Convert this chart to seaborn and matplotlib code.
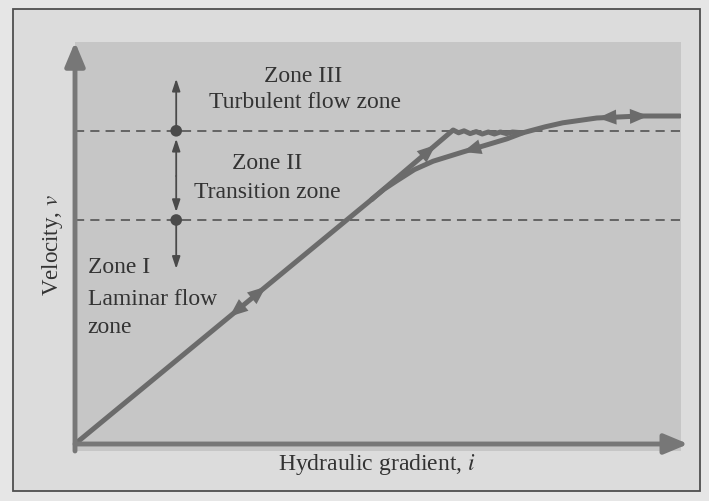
import numpy as np
import seaborn as sns
import matplotlib
matplotlib.use("Agg")
import matplotlib.pyplot as plt
from matplotlib.patches import Rectangle

# curve (x = hydraulic gradient, y = velocity, arbitrary units)
laminar_x = [0.0, 4.90]
laminar_y = [0.0, 6.12]

# rising branch: straight up to the upper critical velocity, then the wobble
rise_x = [4.90, 6.24, 6.33, 6.42, 6.52, 6.62, 6.72, 6.82, 6.92, 7.02, 7.12, 7.22, 7.39]
rise_y = [6.12, 7.85, 7.78, 7.83, 7.76, 7.81, 7.75, 7.80, 7.75, 7.80, 7.76, 7.80, 7.78]

# falling branch / turbulent curve
fall_x = [4.90, 5.10, 5.31, 5.60, 5.91, 6.40, 6.80, 7.13, 7.39, 7.76, 8.05, 8.61, 9.32, 9.98]
fall_y = [6.12, 6.37, 6.58, 6.86, 7.07, 7.30, 7.48, 7.63, 7.78, 7.93, 8.03, 8.15, 8.20, 8.20]

upper_crit = 7.83
lower_crit = 5.60
marker_x = 1.67
zone_top = 9.13
zone_bottom = 4.38

CURVE = "#6b6b6b"
DARK = "#4a4a4a"

sns.set_theme(style="white")
plt.rcParams["font.family"] = ["Liberation Serif", "DejaVu Serif"]
plt.rcParams["mathtext.fontset"] = "stix"

fig = plt.figure(figsize=(7.09, 5.02), dpi=100, facecolor="#e6e6e6")
fig.patches.append(Rectangle((13 / 709, 10 / 502), 687 / 709, 482 / 502,
                             transform=fig.transFigure, facecolor="#dcdcdc",
                             edgecolor="#4f4f4f", lw=1.3, zorder=-10))
ax = fig.add_axes([75 / 709, 50 / 502, 606 / 709, 409 / 502])
ax.set_zorder(1)
ax.set_facecolor("#c6c6c6")
ax.set_xlim(0, 10)
ax.set_ylim(-0.175, 10.05)
for s in ax.spines.values():
    s.set_visible(False)
ax.set_xticks([])
ax.set_yticks([])

# dashed critical velocity lines
ax.axhline(upper_crit, color=DARK, lw=1.1, ls=(0, (6, 4)))
ax.axhline(lower_crit, color=DARK, lw=1.1, ls=(0, (6, 4)))

# curves
for xs, ys in [(laminar_x, laminar_y), (rise_x, rise_y), (fall_x, fall_y)]:
    sns.lineplot(x=xs, y=ys, ax=ax, sort=False, color=CURVE, lw=3.6,
                 solid_capstyle="round", estimator=None)


def head(x0, x1, xs, ys):
    # arrowhead sitting on the curve, pointing from x0 to x1
    ax.annotate("", xy=(x1, np.interp(x1, xs, ys)), xytext=(x0, np.interp(x0, xs, ys)),
                arrowprops=dict(arrowstyle="-|>,head_length=1.1,head_width=0.45",
                                color=CURVE, lw=0, shrinkA=0, shrinkB=0))


head(2.85, 3.15, laminar_x, laminar_y)
head(2.85, 2.55, laminar_x, laminar_y)
head(5.75, 5.95, rise_x[:2], rise_y[:2])
head(6.6, 6.4, fall_x, fall_y)
head(8.9, 8.63, fall_x, fall_y)
head(9.2, 9.46, fall_x, fall_y)

# axes drawn as thick arrows
ax.annotate("", xy=(0, 10.05), xytext=(0, -0.175),
            arrowprops=dict(arrowstyle="-|>,head_length=1.2,head_width=0.5",
                            color="#777777", lw=3.5, shrinkA=0, shrinkB=0),
            annotation_clip=False)
ax.annotate("", xy=(10.12, 0), xytext=(0, 0),
            arrowprops=dict(arrowstyle="-|>,head_length=1.2,head_width=0.5",
                            color="#777777", lw=3.5, shrinkA=0, shrinkB=0),
            annotation_clip=False)

# zone markers
thin = dict(arrowstyle="-|>,head_length=0.6,head_width=0.2", color=DARK, lw=1.3,
            shrinkA=0, shrinkB=0)
ax.annotate("", xy=(marker_x, zone_top), xytext=(marker_x, upper_crit), arrowprops=thin)
ax.annotate("", xy=(marker_x, upper_crit - 0.2), xytext=(marker_x, 6.7), arrowprops=thin)
ax.annotate("", xy=(marker_x, lower_crit + 0.2), xytext=(marker_x, 6.7), arrowprops=thin)
ax.annotate("", xy=(marker_x, zone_bottom), xytext=(marker_x, lower_crit), arrowprops=thin)
sns.scatterplot(x=[marker_x, marker_x], y=[upper_crit, lower_crit], ax=ax,
                color=DARK, s=70, edgecolor="none", zorder=5)

tc = "#333333"
fs = 17
ax.text(3.76, 9.22, "Zone III", ha="center", va="center", fontsize=fs, color=tc)
ax.text(3.80, 8.55, "Turbulent flow zone", ha="center", va="center", fontsize=fs, color=tc)
ax.text(3.17, 7.03, "Zone II", ha="center", va="center", fontsize=fs, color=tc)
ax.text(3.17, 6.30, "Transition zone", ha="center", va="center", fontsize=fs, color=tc)
ax.text(0.21, 4.43, "Zone I", ha="left", va="center", fontsize=fs, color=tc)
ax.text(0.21, 3.63, "Laminar flow", ha="left", va="center", fontsize=fs, color=tc)
ax.text(0.21, 2.93, "zone", ha="left", va="center", fontsize=fs, color=tc)

fig.text(377 / 709, 1 - 465 / 502, "Hydraulic gradient, $i$", ha="center", va="center",
         fontsize=17, color=tc)
fig.text(53 / 709, 1 - 245 / 502, "Velocity, $v$", ha="center", va="center",
         rotation=90, fontsize=16.5, color=tc)

fig.savefig("out.png", dpi=100, facecolor=fig.get_facecolor())
